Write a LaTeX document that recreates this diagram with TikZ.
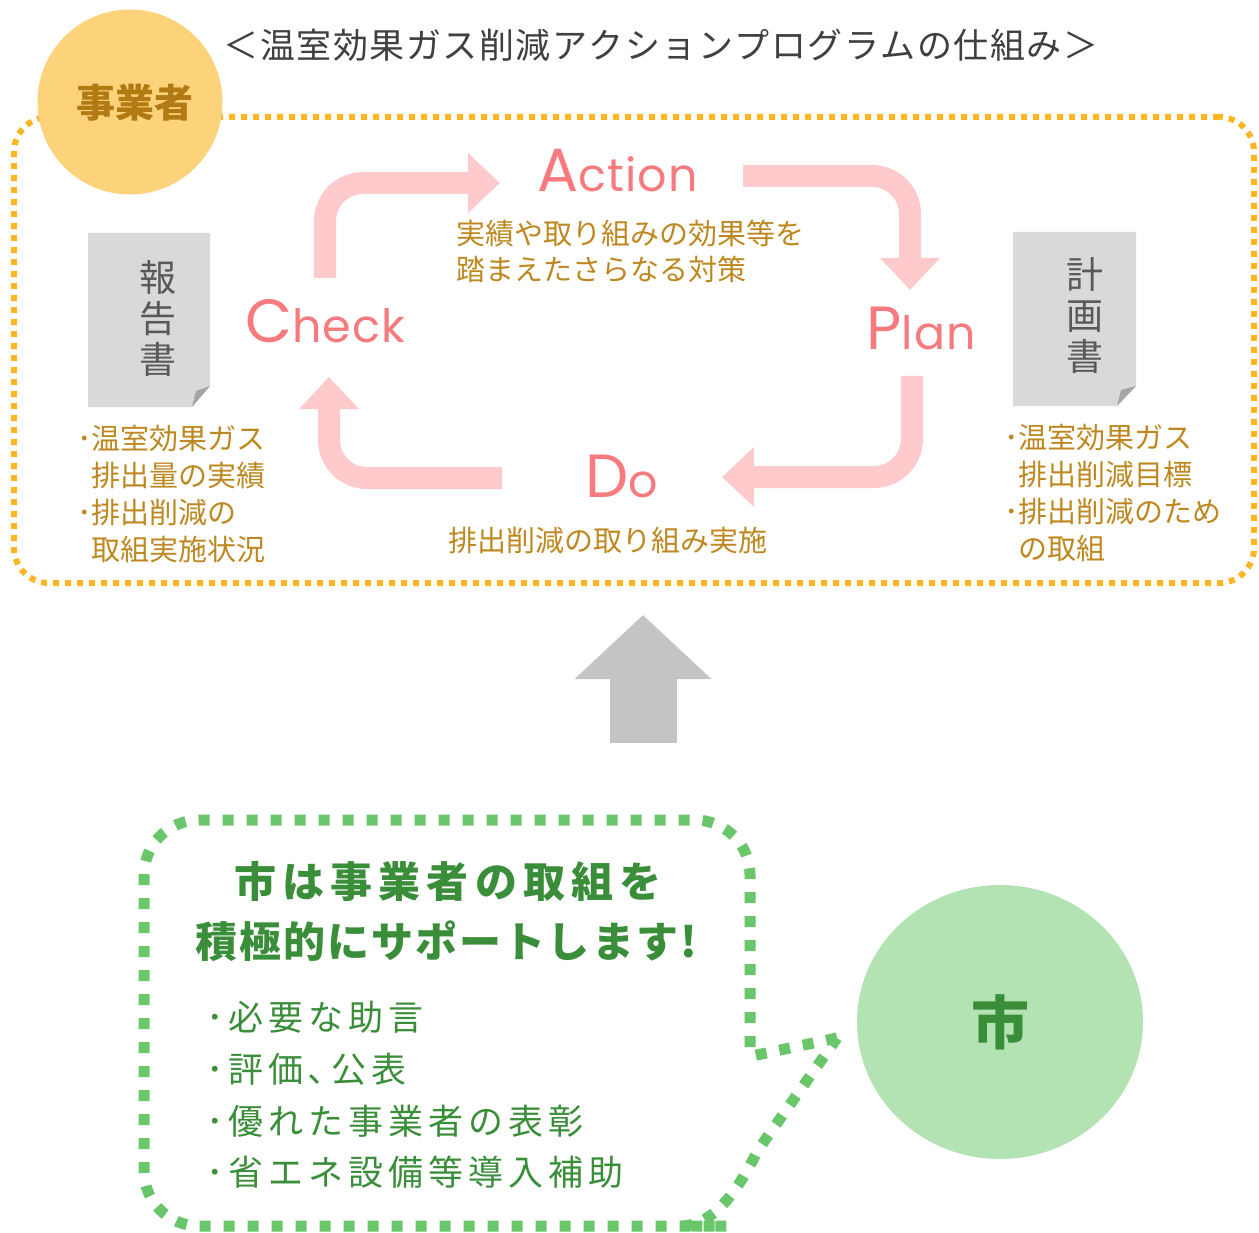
\documentclass[tikz,border=0pt]{standalone}
\usepackage{fontspec}
\usetikzlibrary{arrows.meta,shapes.geometric}
\newfontfamily\jp{Noto Sans CJK JP}
\newfontfamily\pop{Poppins}
\definecolor{orangeD}{RGB}{252,182,36}
\definecolor{orangeC}{RGB}{252,210,122}
\definecolor{orangeT}{RGB}{190,136,32}
\definecolor{orangeT2}{RGB}{178,122,18}
\definecolor{titleG}{RGB}{64,64,64}
\definecolor{docG}{RGB}{217,217,217}
\definecolor{foldG}{RGB}{165,165,165}
\definecolor{docT}{RGB}{89,89,89}
\definecolor{pinkA}{RGB}{255,202,204}
\definecolor{pinkT}{RGB}{247,122,126}
\definecolor{arrowG}{RGB}{196,196,196}
\definecolor{greenD}{RGB}{106,198,106}
\definecolor{greenC}{RGB}{179,226,179}
\definecolor{greenT}{RGB}{58,142,58}
\makeatletter
\def\trk#1#2{\def\trk@k{#1}\trk@loop#2\@nil}
\def\trk@loop#1{\ifx#1\@nil\else#1\kern\trk@k\relax\expandafter\trk@loop\fi}
\def\spr#1#2{\hbox to #1{\spr@loop#2\@nil\unskip}}
\def\spr@loop#1{\ifx#1\@nil\else#1\hfil\expandafter\spr@loop\fi}
\makeatother
\newcommand\pdcaword[2]{{\fontsize{61}{61}\selectfont #1}{\fontsize{46}{46}\selectfont\trk{1.2pt}{#2}}}
\begin{document}
\begin{tikzpicture}[x=1pt,y=-1pt,
  odash/.style={draw=orangeD, line width=6pt, dash pattern=on 6pt off 6pt},
  gdash/.style={draw=greenD, line width=11pt, dash pattern=on 11pt off 13pt},
  parrow/.style={draw=pinkA, line width=22pt, rounded corners=38pt, -{Triangle[length=32pt,width=58pt]}},
  pdca/.style={text=pinkT, inner sep=0pt, anchor=base west, font=\pop},
  otxt/.style={text=orangeT, inner sep=0pt, anchor=west, align=left, font=\jp\fontsize{29}{37}\selectfont},
  doctxt/.style={text=docT, inner sep=0pt, align=center, font=\jp\fontsize{37}{41}\selectfont},
  gtitle/.style={text=greenT, inner sep=0pt, font=\jp\bfseries\fontsize{42}{42}\selectfont},
  glist/.style={text=greenT, inner sep=0pt, anchor=west, align=left, font=\jp\fontsize{35}{51.7}\selectfont}
]
\useasboundingbox (0,0) rectangle (1259,1233);

% title
\node[text=titleG, inner sep=0pt, font=\jp\fontsize{35}{35}\selectfont] (title) at (661,45) {\spr{875pt}{＜温室効果ガス削減アクションプログラムの仕組み＞}};

% orange frame
\node[odash, rounded corners=35pt, minimum width=1240pt, minimum height=466pt, inner sep=0pt] (frame) at (634,350) {};

% business operator circle
\node[circle, fill=orangeC, minimum size=185pt, inner sep=0pt] (jig) at (130,102) {};
\node[text=orangeT2, inner sep=0pt, font=\jp\bfseries\fontsize{39}{39}\selectfont] (jigt) at (135,103) {事業者};

% documents
\fill[docG] (88,233) -- (210,233) -- (210,386) -- (192,407) -- (88,407) -- cycle;
\fill[foldG] (192,407) -- (196,391) -- (210,386) -- cycle;
\node[doctxt] (rep) at (158,319) {報\\告\\書};
\fill[docG] (1013,232) -- (1136,232) -- (1136,386) -- (1117,406) -- (1013,406) -- cycle;
\fill[foldG] (1117,406) -- (1121,390) -- (1136,386) -- cycle;
\node[doctxt] (plandoc) at (1085,316) {計\\画\\書};

% PDCA labels
\node[pdca] (check) at (245,343) {\pdcaword{C}{heck}};
\node[pdca] (action) at (537,192) {\pdcaword{A}{ction}};
\node[pdca] (plan) at (866,350) {\pdcaword{P}{lan}};
\node[pdca] (do) at (585,497) {\pdcaword{D}{o}};

% pink cycle arrows
\coordinate (a1s) at (325,278); \coordinate (a1e) at (500,183);
\coordinate (a2s) at (743,176); \coordinate (a2e) at (910,290);
\coordinate (a3s) at (912,376); \coordinate (a3e) at (722,477);
\coordinate (a4s) at (502,478); \coordinate (a4e) at (329,377);
\draw[parrow] (a1s) |- (a1e);
\draw[parrow] (a2s) -| (a2e);
\draw[parrow] (a3s) |- (a3e);
\draw[parrow] (a4s) -| (a4e);

% descriptions
\node[otxt, font=\jp\fontsize{29}{36}\selectfont] (adesc) at (456,251) {実績や取り組みの効果等を\\踏まえたさらなる対策};
\node[otxt] (ddesc) at (448,540) {排出削減の取り組み実施};
\node[otxt] (lst1) at (77,494) {･温室効果ガス\\\hphantom{･}排出量の実績\\･排出削減の\\\hphantom{･}取組実施状況};
\node[otxt] (lst2) at (1004,493) {･温室効果ガス\\\hphantom{･}排出削減目標\\･排出削減のため\\\hphantom{･}の取組};

% grey up arrow
\coordinate (gs) at (643,743); \coordinate (ge) at (643,615);
\draw[draw=arrowG, line width=67pt, -{Triangle[length=64pt,width=133pt]}] (gs) -- (ge);

% city circle
\node[ellipse, fill=greenC, minimum width=286pt, minimum height=274pt, inner sep=0pt, text=greenT, font=\jp\bfseries\fontsize{58}{58}\selectfont] (city) at (1000,1022) {市};

% speech bubble
\coordinate (tip) at (837,1038);
\draw[gdash] (tip) -- (752,1056) -- (750,1050) [rounded corners=55pt] -- (750,820) -- (144,820) -- (144,1226) -- (672,1226) [sharp corners] -- (680,1226) .. controls (714,1226) and (738,1190) .. (758,1150) -- (tip);

\node[gtitle] (gt1) at (448,882) {\spr{428pt}{市は事業者の取組を}};
\node[gtitle] (gt2) at (446,941) {\spr{502pt}{積極的にサポートします!}};
\node[glist] (gl) at (206,1095) {\trk{5pt}{･必要な助言}\\\trk{5pt}{･評価､公表}\\\trk{5pt}{･優れた事業者の表彰}\\\trk{5pt}{･省エネ設備等導入補助}};
\end{tikzpicture}
\end{document}
